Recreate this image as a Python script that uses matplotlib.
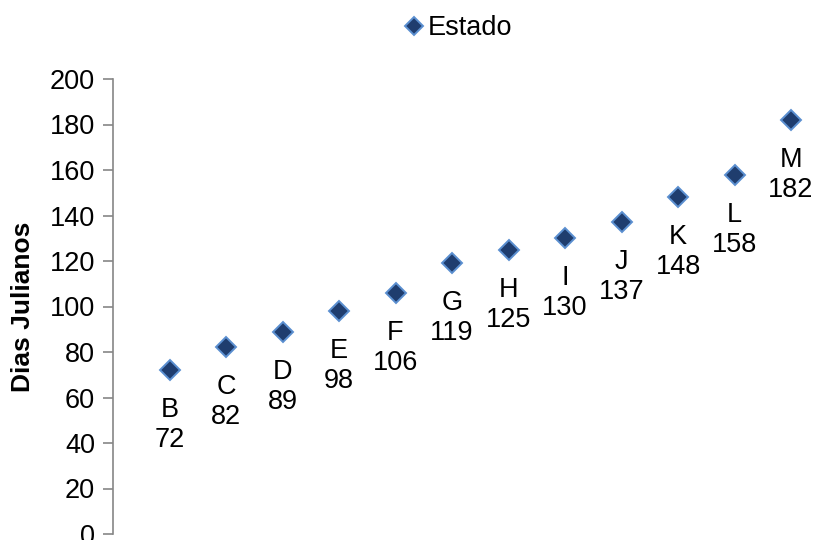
import matplotlib
matplotlib.use("Agg")
import matplotlib.pyplot as plt

plt.rcParams['font.family'] = ['Liberation Sans', 'DejaVu Sans']

# Phenological stages and the Julian day each was reached
estados = ["B", "C", "D", "E", "F", "G", "H", "I", "J", "K", "L", "M"]
dias = [72, 82, 89, 98, 106, 119, 125, 130, 137, 148, 158, 182]
yticks = list(range(0, 201, 20))

W, H = 816, 540
FS = 19.5
fig = plt.figure(figsize=(W / 100, H / 100), dpi=100)

# axes: y from 0 (px 534) to 200 (px 79); x spine at px 113, 56.5 px per stage
x0, x1 = 113, 113 + 56.5 * 13
y0, y1 = 534, 79
ax = fig.add_axes([x0 / W, (H - y0) / H, (x1 - x0) / W, (y0 - y1) / H])

xs = list(range(1, len(dias) + 1))
ax.plot(xs, dias, linestyle="none", marker="D", markersize=10,
        markerfacecolor="#1F3D6E", markeredgecolor="#5B8FD0",
        markeredgewidth=1.4, label="Estado", clip_on=False, zorder=3)

for x, e, d in zip(xs, estados, dias):
    ax.annotate(f"{e}\n{d}", (x, d), xytext=(0, -27),
                textcoords="offset pixels", ha="center", va="top",
                fontsize=FS, linespacing=1.2, color="black")

ax.set_xlim(0, 13)
ax.set_ylim(0, 200)
ax.set_yticks(yticks)
ax.tick_params(axis="y", direction="out", length=7, width=1.2,
               color="#868686", labelsize=FS, pad=6)
ax.set_xticks([])
for side in ("top", "right", "bottom"):
    ax.spines[side].set_visible(False)
ax.spines["left"].set_color("#868686")
ax.spines["left"].set_linewidth(1.2)

fig.text(23 / W, (H - 307) / H, "Dias Julianos", rotation=90,
         ha="center", va="center", fontsize=FS - 0.5, fontweight="bold")

fig.legend(loc="center", bbox_to_anchor=(456 / W, (H - 28) / H),
           frameon=False, fontsize=FS, handletextpad=0.0,
           handlelength=1.0, markerscale=0.9)

fig.savefig("out.png", dpi=100)
